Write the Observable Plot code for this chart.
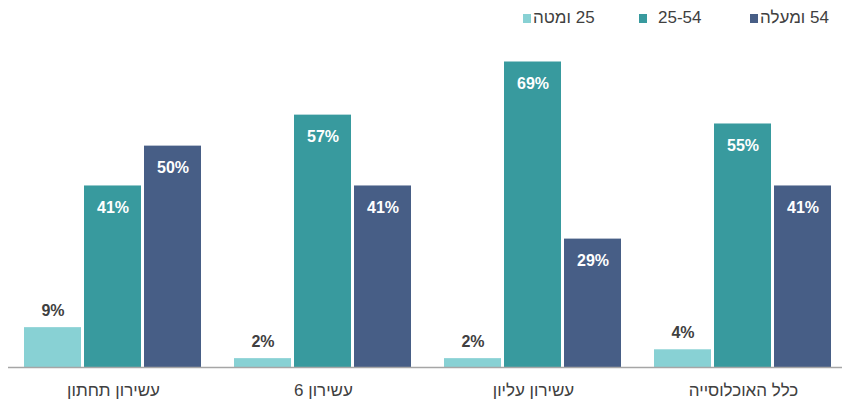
<!DOCTYPE html>
<html><head><meta charset="utf-8">
<script src="https://cdn.jsdelivr.net/npm/d3@7"></script>
<script src="https://cdn.jsdelivr.net/npm/@observablehq/plot@0.6"></script>
<style>
body{margin:0;background:#fff;font-family:"Liberation Sans",Arial,sans-serif;}
#legend{height:36px;position:relative;width:842px;}
.item{position:absolute;top:8px;display:flex;align-items:center;font-size:17px;color:#404040;white-space:nowrap;}
.sw{width:8px;height:9px;display:inline-block;}
.lbl{direction:rtl;unicode-bidi:isolate;}
</style></head><body>
<div id="legend"></div><div id="chart"></div>
<script>
const groups = ["עשירון תחתון","עשירון 6","עשירון עליון","כלל האוכלוסייה"];
const series = ["25 ומטה","25-54","54 ומעלה"];
const under25 = [9,2,2,4];
const age25to54 = [41,57,69,55];
const over54 = [50,41,29,41];
const colors = ["#88d1d4","#389a9e","#475e86"];

const values = [under25, age25to54, over54];
const data = groups.flatMap((g,i)=>series.map((s,j)=>({group:g, series:s, value:values[j][i]})));

// legend
const legendPos = [[523,2],[639,11],[750,2]];
const legend = document.getElementById("legend");
series.forEach((s,j)=>{
  const it = document.createElement("div");
  it.className="item"; it.style.left=legendPos[j][0]+"px";
  const sw = document.createElement("span"); sw.className="sw"; sw.style.background=colors[j];
  const lb = document.createElement("span"); lb.className="lbl"; lb.textContent=s; lb.style.marginLeft=legendPos[j][1]+"px";
  it.append(sw,lb); legend.append(it);
});

const chart = Plot.plot({
  width:842, height:363, marginTop:0, marginBottom:32, marginLeft:8, marginRight:0,
  style:{fontSize:"17px", fontFamily:"'Liberation Sans', Arial, sans-serif", color:"#404040", background:"white"},
  fx:{domain:groups, range:[8,848], padding:0, label:null, axis:"bottom", tickSize:0, tickPadding:16},
  x:{domain:series, paddingInner:0.049, paddingOuter:0.246, axis:null},
  y:{domain:[0,69], range:[331,25.5], axis:null},
  color:{domain:series, range:colors},
  marks:[
    Plot.barY(data,{fx:"group", x:"series", y:"value", fill:"series"}),
    Plot.ruleY([0],{stroke:"#a6a6a6", strokeWidth:1.5}),
    Plot.text(data,{filter:d=>d.series!==series[0], fx:"group", x:"series", y:"value", text:d=>d.value+"%", dy:22, fill:"white", fontWeight:"bold", fontSize:16}),
    Plot.text(data,{filter:d=>d.series===series[0], fx:"group", x:"series", y:"value", text:d=>d.value+"%", dy:-17, fill:"#404040", fontWeight:"bold", fontSize:16})
  ]
});
document.getElementById("chart").append(chart);
</script>
</body></html>
